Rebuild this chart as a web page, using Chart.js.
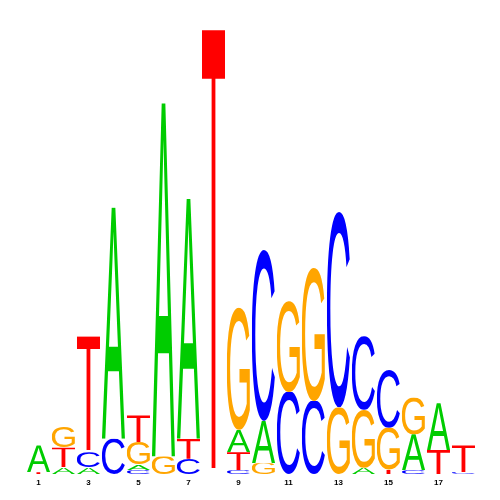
<!DOCTYPE html>
<html>
<head>
<meta charset="utf-8">
<script src="https://cdn.jsdelivr.net/npm/chart.js@4/dist/chart.umd.min.js"></script>
<style>
  html, body { margin:0; padding:0; background:#fff; }
  #wrap { width:500px; height:500px; }
</style>
</head>
<body>
<div id="wrap"><canvas id="logo" width="500" height="500"></canvas></div>
<script>
// positions 1..18, information content per base (bits)
const positions = ['1','2','3','4','5','6','7','8','9','10','11','12','13','14','15','16','17','18'];
const bases = ['A','C','G','T'];
const baseColors = { A:'#00CC00', C:'#0000FF', G:'#FFA500', T:'#FF0000' };

const hA = [0.12, 0.03, 0.03, 1.04, 0.025, 1.59, 1.08, 0,    0.10, 0.19, 0,    0,    0,    0.03, 0,    0.16,  0.21, 0   ];
const hC = [0,    0,    0.07, 0.16, 0.02,  0,    0.07, 0,    0.02, 0.77, 0.37, 0.33, 0.88, 0.33, 0.26, 0.02,  0,    0.01];
const hG = [0,    0.095,0,    0,    0.10,  0.08, 0,    0,    0.55, 0.05, 0.41, 0.60, 0.30, 0.26, 0.19, 0.165, 0,    0   ];
const hT = [0.01, 0.09, 0.52, 0,    0.12,  0,    0.09, 2.00, 0.08, 0,    0,    0,    0,    0,    0.02, 0,     0.11, 0.12];

const heights = { A:hA, C:hC, G:hG, T:hT };

// stack each column: smallest letter at the bottom
const floating = { A:[], C:[], G:[], T:[] };
positions.forEach((_, i) => {
  const order = bases.slice().sort((a,b) => heights[a][i] - heights[b][i]);
  let y = 0;
  for (const b of order) {
    const h = heights[b][i];
    floating[b][i] = h > 0 ? [y, y + h] : null;
    y += h;
  }
});

// draw a stretched letter in every bar box
const letterPlugin = {
  id: 'letters',
  afterDatasetsDraw(chart){
    const ctx = chart.ctx;
    chart.data.datasets.forEach((ds, di) => {
      const meta = chart.getDatasetMeta(di);
      meta.data.forEach((bar, i) => {
        if (!ds.data[i]) return;
        const p = bar.getProps(['x','y','base','width'], true);
        const top = Math.min(p.y, p.base), bot = Math.max(p.y, p.base);
        const h = bot - top;
        if (h < 0.5) return;
        const left = p.x - p.width/2;
        ctx.save();
        ctx.font = '100px "Liberation Sans", Arial, sans-serif';
        ctx.textBaseline = 'alphabetic';
        ctx.textAlign = 'left';
        const m = ctx.measureText(ds.label);
        const gl = -m.actualBoundingBoxLeft, gr = m.actualBoundingBoxRight;
        const ga = m.actualBoundingBoxAscent, gd = m.actualBoundingBoxDescent;
        const sx = p.width / (gr - gl), sy = h / (ga + gd);
        ctx.beginPath();
        ctx.rect(left, top, p.width, h);
        ctx.clip();
        ctx.translate(left, top);
        ctx.scale(sx, sy);
        ctx.fillStyle = baseColors[ds.label];
        ctx.fillText(ds.label, -gl, ga);
        ctx.restore();
      });
    });
  }
};

new Chart(document.getElementById('logo'), {
  type: 'bar',
  data: {
    labels: positions,
    datasets: bases.map(b => ({
      label: b,
      data: floating[b],
      backgroundColor: 'rgba(0,0,0,0)',
      borderWidth: 0,
      grouped: false,
      barPercentage: 0.93,
      categoryPercentage: 1
    }))
  },
  options: {
    responsive: false,
    animation: false,
    layout: { padding: { left: 26, right: 24, top: 29, bottom: 8 } },
    plugins: { legend: { display: false }, tooltip: { enabled: false } },
    scales: {
      x: {
        grid: { display: false, drawTicks: false },
        border: { display: false },
        ticks: {
          autoSkip: false, maxRotation: 0, padding: 4, color: '#000',
          font: { family: '"Liberation Sans", Arial, sans-serif', size: 8, weight: 'bold' },
          callback: (v, i) => (i % 2 === 0 ? positions[i] : '')
        }
      },
      y: { display: false, min: 0, max: 2 }
    }
  },
  plugins: [letterPlugin]
});
</script>
</body>
</html>
